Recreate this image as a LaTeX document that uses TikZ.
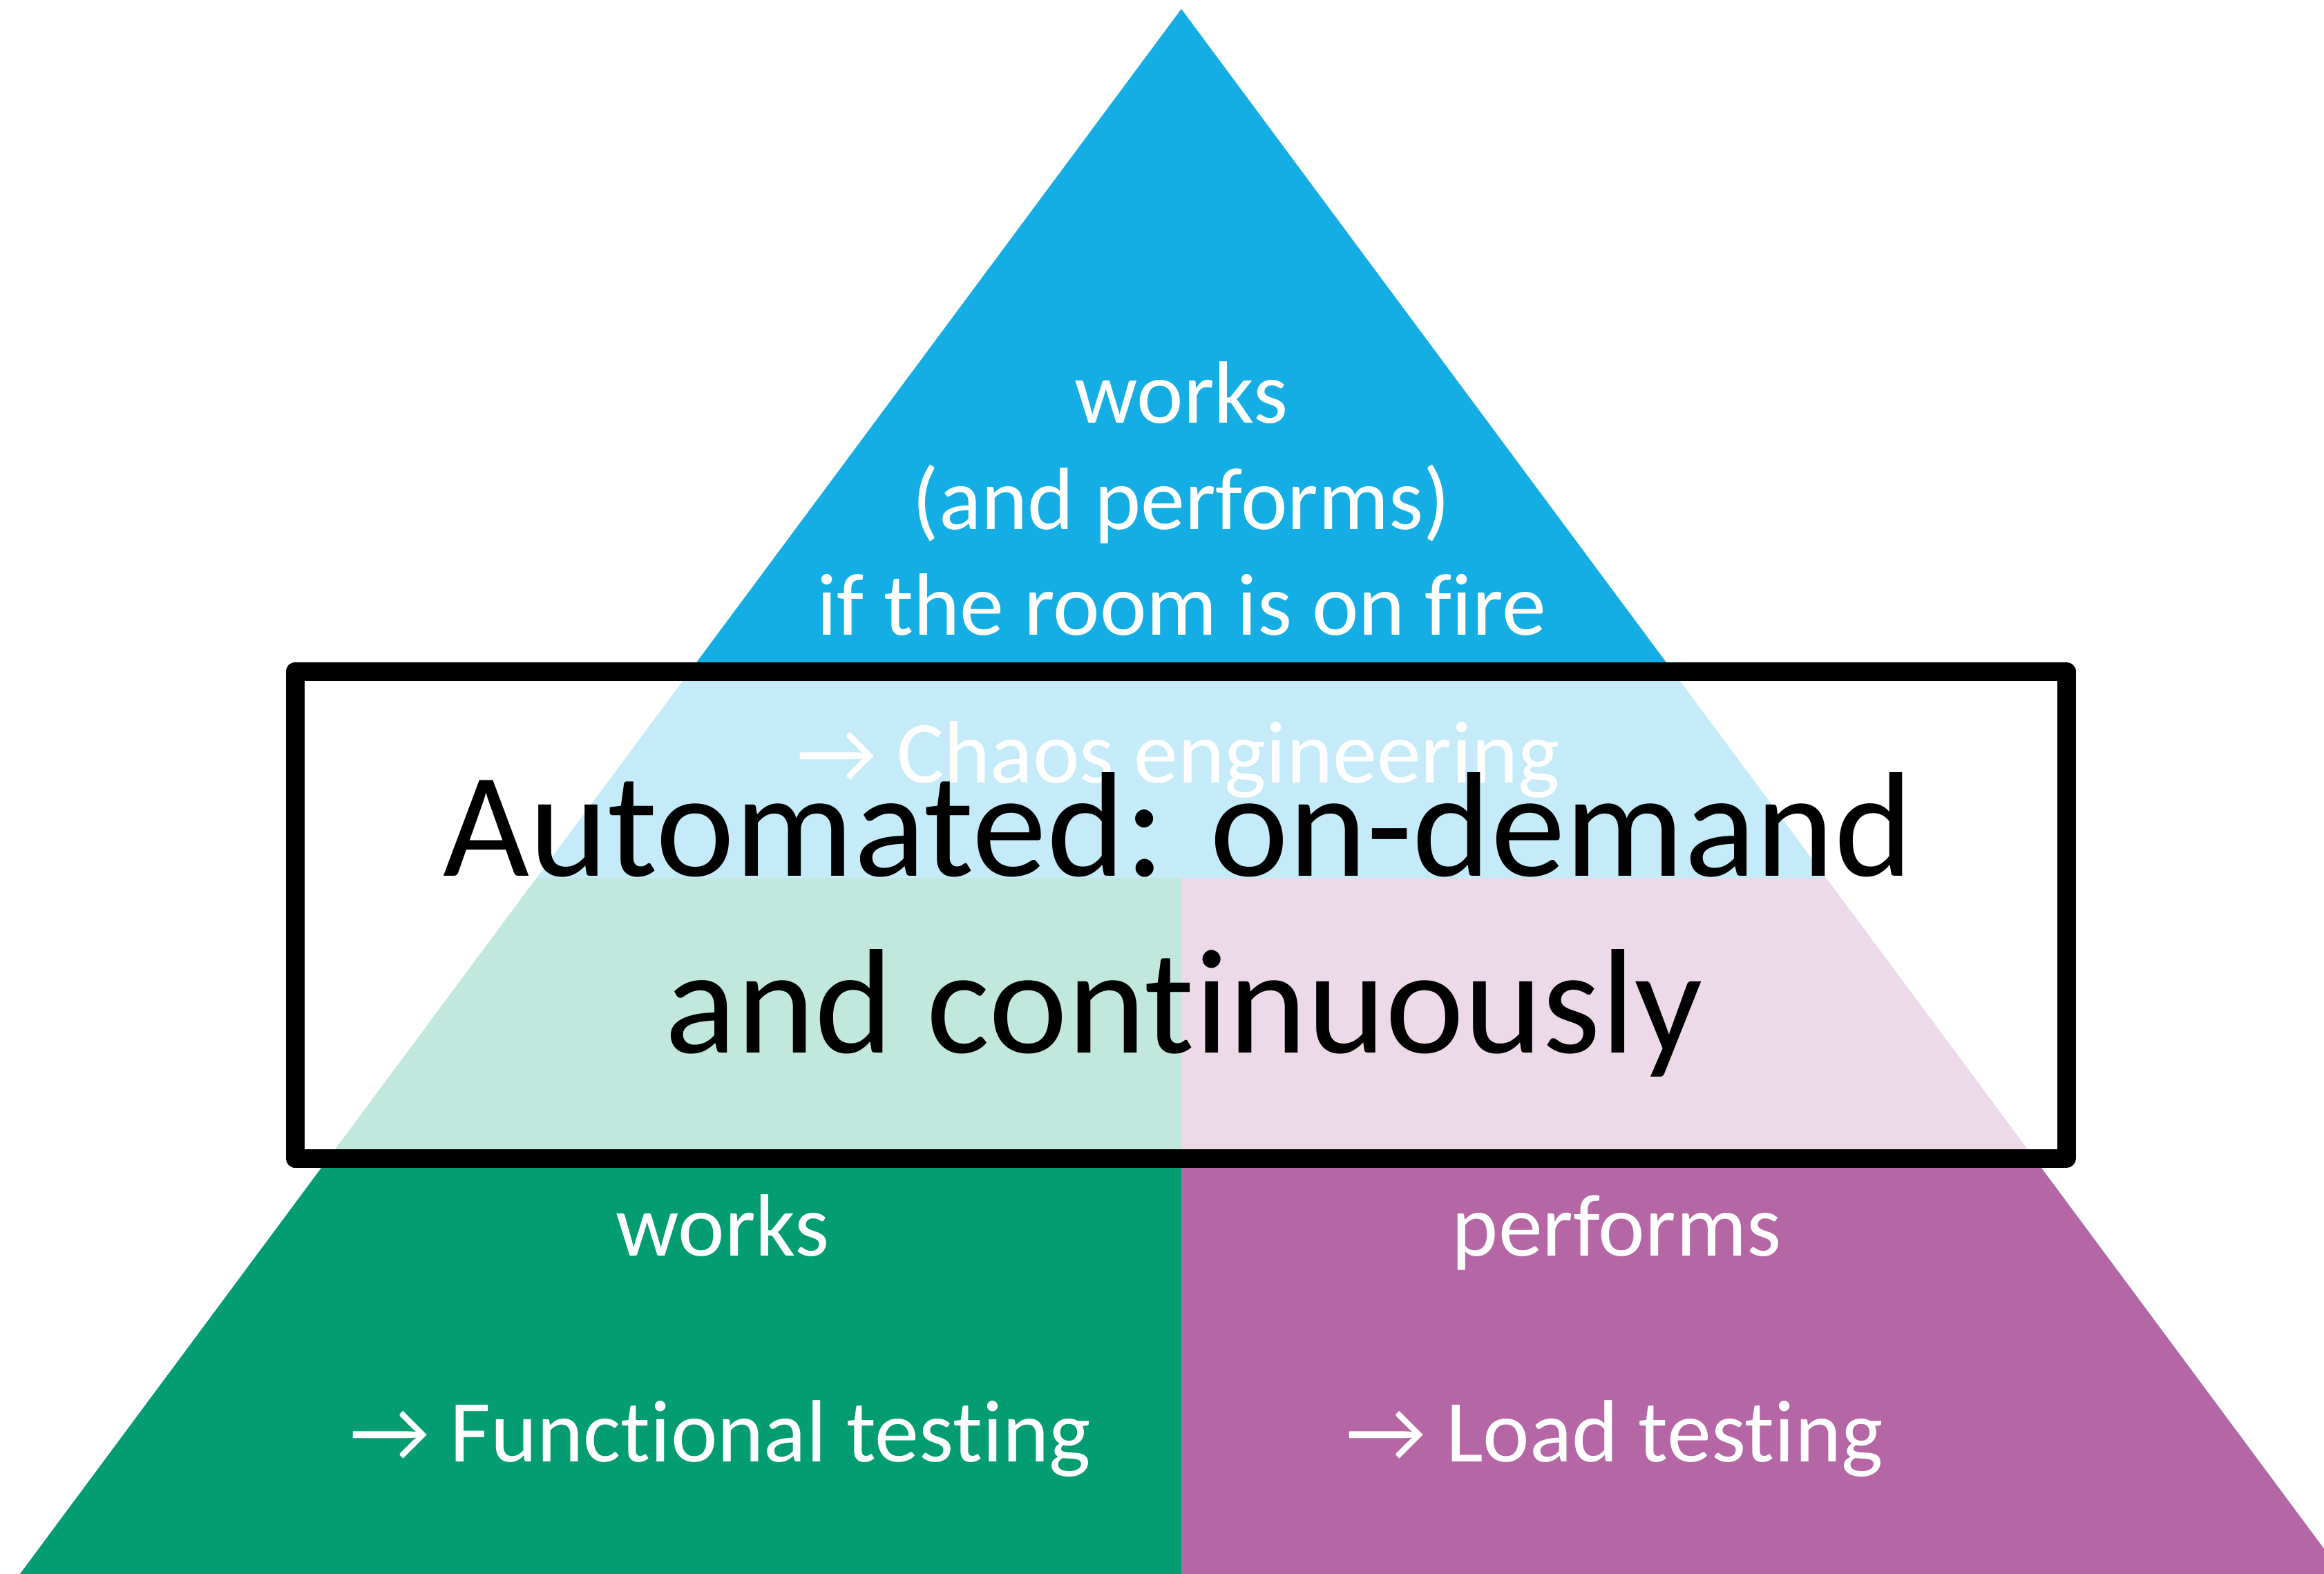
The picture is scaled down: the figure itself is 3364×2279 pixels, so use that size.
\documentclass[tikz,border=0pt]{standalone}
\usepackage{fontspec}
\setmainfont[Ligatures=NoCommon,RawFeature={-liga;-clig;-dlig}]{Carlito}
\definecolor{pblue}{RGB}{20,174,228}
\definecolor{pgreen}{RGB}{4,157,114}
\definecolor{ppurple}{RGB}{181,102,164}
\begin{document}
\begin{tikzpicture}[x=0.25pt,y=-0.25pt,
  lbl/.style={text=white,font=\fontsize{32}{38}\selectfont,inner sep=0pt,anchor=base},
  big/.style={text=black,font=\fontsize{54}{64}\selectfont,inner sep=0pt,anchor=base},
  boxstyle/.style={draw=black,line width=6.75pt,line join=round,fill=white,fill opacity=0.76,draw opacity=1,minimum width=641pt,minimum height=176.25pt,inner sep=0pt}]
\useasboundingbox (0,0) rectangle (3364,2279);
\begin{scope}
\clip (0,0) rectangle (3364,2279);
\fill[pblue] (1710,13) -- (3391,2279) -- (29,2279) -- cycle;
\fill[pgreen] (776.8,1271) -- (1710,1271) -- (1710,2279) -- (29,2279) -- cycle;
\fill[ppurple] (1710,1271) -- (2643.2,1271) -- (3391,2279) -- (1710,2279) -- cycle;
\end{scope}
\node[lbl] (t1) at (1710,612) {works};
\node[lbl] (t2) at (1710,766) {(and performs)};
\node[lbl] (t3) at (1710,919) {if the room is on fire};
\node[lbl] (chaos) at (1706,1133) {→ Chaos engineering};
\node[lbl] (gw) at (1046,1818) {works};
\node[lbl] (func) at (1043,2116) {→ Functional testing};
\node[lbl] (pp) at (2340,1818) {performs};
\node[lbl] (load) at (2337,2116) {→ Load testing};
\node[boxstyle] (box) at (1709,1324.5) {};
\node[big] (m1) at (1705,1268) {Automated: on-demand};
\node[big] (m2) at (1714,1524) {and continuously};
\end{tikzpicture}
\end{document}
